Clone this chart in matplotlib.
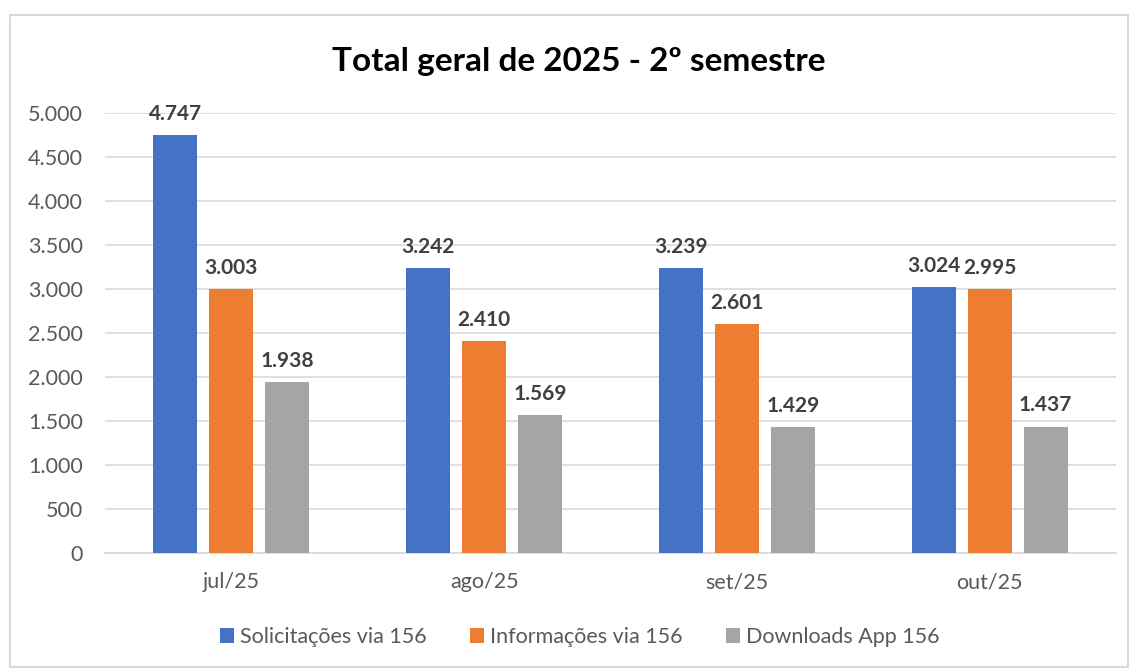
import numpy as np
import matplotlib.pyplot as plt
from matplotlib.patches import Rectangle

plt.rcParams['font.family'] = ['Lato', 'DejaVu Sans']

meses = ["jul/25", "ago/25", "set/25", "out/25"]
series = ["Solicitações via 156", "Informações via 156", "Downloads App 156"]
solicitacoes = [4747, 3242, 3239, 3024]
informacoes = [3003, 2410, 2601, 2995]
downloads = [1938, 1569, 1429, 1437]
cores = ["#4472C4", "#ED7D31", "#A5A5A5"]
yticks = [0, 500, 1000, 1500, 2000, 2500, 3000, 3500, 4000, 4500, 5000]


def fmt(v):
    return f"{v:,.0f}".replace(",", ".")


fig = plt.figure(figsize=(11.3, 6.68), dpi=100)
fig.patches.append(Rectangle((10 / 1130, 0.002), 1118 / 1130, 1 - 15 / 668 - 0.002,
                             transform=fig.transFigure, fill=False,
                             edgecolor="#D9D9D9", linewidth=1.5))
ax = fig.add_axes([105 / 1130, 1 - 553 / 668, 1011 / 1130, 440 / 668])

x = np.arange(len(meses))
largura = 0.174
passo = 0.222
for i, (nome, vals) in enumerate(zip(series, [solicitacoes, informacoes, downloads])):
    pos = x + (i - 1) * passo
    ax.bar(pos, vals, largura, color=cores[i], label=nome, zorder=3)
    for p, v in zip(pos, vals):
        ax.annotate(fmt(v), (p, v), xytext=(0, 8), textcoords="offset points",
                    ha="center", va="bottom", fontsize=15, fontweight="bold",
                    color="#404040")

ax.set_xlim(-0.5, 3.5)
ax.set_ylim(0, 5000)
ax.set_yticks(yticks)
ax.set_yticklabels([fmt(v) for v in yticks])
ax.set_xticks(x)
ax.set_xticklabels(meses)
ax.tick_params(length=0, labelsize=15.5, colors="#595959")
ax.tick_params(axis="x", pad=14)
ax.tick_params(axis="y", pad=16)
ax.grid(axis="y", color="#D9D9D9", linewidth=1.2, zorder=0)
for s in ["top", "right", "left"]:
    ax.spines[s].set_visible(False)
ax.spines["bottom"].set_color("#D9D9D9")
ax.spines["bottom"].set_linewidth(1.2)

fig.text(0.512, 1 - 62 / 668, "Total geral de 2025 - 2º semestre", ha="center", va="center",
         fontsize=24, fontweight="bold", color="black")

fig.legend(loc="center", bbox_to_anchor=(0.513, 1 - 637 / 668), ncol=3, frameon=False,
           fontsize=15.5, handlelength=0.65, handleheight=0.65, handletextpad=0.3,
           columnspacing=2.0, labelcolor="#595959")

fig.savefig("out.png", dpi=100)
